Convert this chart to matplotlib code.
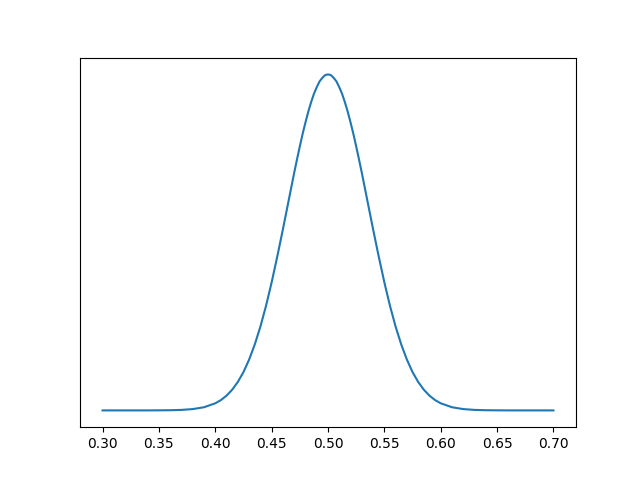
import matplotlib
matplotlib.use("Agg")
import matplotlib.pyplot as plt

# values (relative height, peak = 1)
x_vals = [0.30, 0.32, 0.34, 0.35, 0.36, 0.37, 0.38, 0.39, 0.40, 0.405,
          0.41, 0.415, 0.42, 0.425, 0.43, 0.435, 0.44, 0.445, 0.45, 0.455,
          0.46, 0.465, 0.47, 0.4725, 0.475, 0.4775, 0.48, 0.4825, 0.485, 0.4875,
          0.49, 0.4925, 0.495, 0.4975, 0.50,
          0.5025, 0.505, 0.5075, 0.51, 0.5125, 0.515, 0.5175, 0.52, 0.5225, 0.525,
          0.5275, 0.53, 0.535, 0.54, 0.545, 0.55,
          0.555, 0.56, 0.565, 0.57, 0.575, 0.58, 0.585, 0.59, 0.595, 0.60,
          0.61, 0.62, 0.63, 0.64, 0.65, 0.66, 0.68, 0.70]
y_vals = [0.0, 0.0, 0.0, 0.0002, 0.0005, 0.0015, 0.0039, 0.0094, 0.0211, 0.0307,
          0.0439, 0.0616, 0.0847, 0.114, 0.151, 0.196, 0.249, 0.311, 0.381, 0.458,
          0.539, 0.623, 0.707, 0.747, 0.786, 0.823, 0.857, 0.889, 0.917, 0.942,
          0.962, 0.979, 0.990, 0.998, 1.0,
          0.998, 0.990, 0.979, 0.962, 0.942, 0.917, 0.889, 0.857, 0.823, 0.786,
          0.747, 0.707, 0.623, 0.539, 0.458, 0.381,
          0.311, 0.249, 0.196, 0.151, 0.114, 0.0847, 0.0616, 0.0439, 0.0307, 0.0211,
          0.0094, 0.0039, 0.0015, 0.0005, 0.0002, 0.0, 0.0, 0.0]

fig, ax = plt.subplots(figsize=(6.4, 4.8), dpi=100)
ax.plot(x_vals, y_vals)
ax.set_yticks([])
fig.savefig("out.png")
